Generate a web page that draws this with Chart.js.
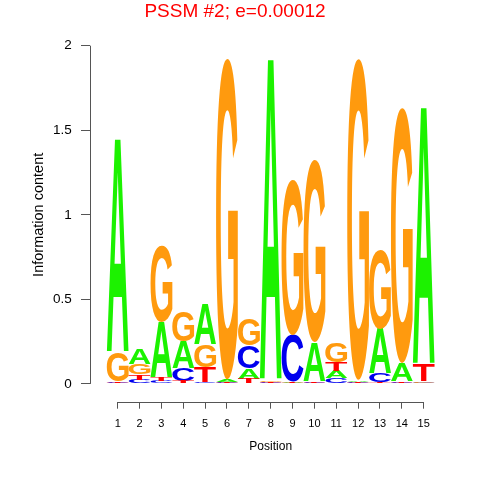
<!DOCTYPE html>
<html>
<head>
<meta charset="utf-8">
<script src="https://cdn.jsdelivr.net/npm/chart.js@4"></script>
<style>
html,body{margin:0;padding:0;background:#fff;}
#wrap{width:480px;height:480px;}
</style>
</head>
<body>
<div id="wrap"><canvas id="c" width="480" height="480"></canvas></div>
<script>
const positions = [1,2,3,4,5,6,7,8,9,10,11,12,13,14,15];
const heightA = [1.263, 0.088, 0.330, 0.157, 0.236, 0.012, 0.063, 1.900, 0.008, 0.227, 0.042, 0.010, 0.266, 0.109, 1.520];
const heightC = [0.007, 0.025, 0.016, 0.079, 0.012, 0.006, 0.134, 0.006, 0.276, 0.008, 0.036, 0.006, 0.050, 0.008, 0.008];
const heightG = [0.170, 0.063, 0.453, 0.177, 0.132, 1.900, 0.157, 0.008, 0.916, 1.073, 0.120, 1.900, 0.463, 1.510, 0.007];
const heightT = [0.008, 0.030, 0.020, 0.015, 0.089, 0.008, 0.030, 0.006, 0.007, 0.007, 0.050, 0.008, 0.010, 0.007, 0.099];
const yTicks = [0, 0.5, 1, 1.5, 2];
const xTicks = positions;
const titleText = 'PSSM #2; e=0.00012';
const xTitle = 'Position';
const yTitle = 'Information content';

const letters = ['A','C','G','T'];
const heights = {A: heightA, C: heightC, G: heightG, T: heightT};
const colors = {A: '#1CF200', C: '#0000EE', G: '#FF9A0E', T: '#FF0000'};

// stack letters in each column, smallest at the bottom
const ranges = {A: [], C: [], G: [], T: []};
positions.forEach((p, i) => {
  const order = letters.slice().sort((a, b) => heights[a][i] - heights[b][i]);
  let base = 0;
  order.forEach(l => {
    ranges[l].push({x: p, y: [base, base + heights[l][i]]});
    base += heights[l][i];
  });
});

const glyphCache = {};
function glyphMetrics(ctx, ch) {
  if (glyphCache[ch]) return glyphCache[ch];
  ctx.save();
  ctx.font = 'bold 200px "Liberation Sans"';
  const m = ctx.measureText(ch);
  ctx.restore();
  const g = {l: m.actualBoundingBoxLeft, r: m.actualBoundingBoxRight, a: m.actualBoundingBoxAscent, d: m.actualBoundingBoxDescent};
  glyphCache[ch] = g;
  return g;
}

const logoPlugin = {
  id: 'logo',
  afterDatasetsDraw(chart) {
    const ctx = chart.ctx;
    chart.data.datasets.forEach((ds, di) => {
      const meta = chart.getDatasetMeta(di);
      const ch = ds.label;
      const g = glyphMetrics(ctx, ch);
      meta.data.forEach(el => {
        const p = el.getProps(['x','y','base','width'], true);
        const top = Math.min(p.y, p.base);
        const h = Math.abs(p.base - p.y);
        if (h <= 0.05) return;
        const left = p.x - p.width / 2;
        ctx.save();
        ctx.beginPath();
        ctx.translate(left, top);
        ctx.scale(p.width / (g.l + g.r), h / (g.a + g.d));
        ctx.font = 'bold 200px "Liberation Sans"';
        ctx.textAlign = 'left';
        ctx.textBaseline = 'alphabetic';
        ctx.fillStyle = colors[ch];
        ctx.fillText(ch, g.l, g.a);
        ctx.restore();
      });
    });
  },
  afterDraw(chart) {
    const ctx = chart.ctx;
    const xs = chart.scales.x, ys = chart.scales.y;
    ctx.save();
    ctx.strokeStyle = '#555';
    ctx.lineWidth = 1;
    // y axis line from first to last tick
    const ax = Math.round(chart.chartArea.left) + 0.5;
    ctx.beginPath();
    ctx.moveTo(ax, ys.getPixelForValue(yTicks[0]));
    ctx.lineTo(ax, ys.getPixelForValue(yTicks[yTicks.length - 1]));
    ctx.stroke();
    // x axis line from first to last tick
    const ay = Math.round(chart.chartArea.bottom) + 0.5;
    ctx.beginPath();
    ctx.moveTo(xs.getPixelForValue(xTicks[0]), ay);
    ctx.lineTo(xs.getPixelForValue(xTicks[xTicks.length - 1]), ay);
    ctx.stroke();
    // titles
    ctx.fillStyle = '#FF0000';
    ctx.font = '19px "Liberation Sans"';
    ctx.textAlign = 'center';
    ctx.textBaseline = 'alphabetic';
    ctx.fillText(titleText, 235, 16.5);
    ctx.fillStyle = '#000';
    ctx.font = '12px "Liberation Sans"';
    ctx.fillText(xTitle, xs.getPixelForValue((xTicks[0] + xTicks[xTicks.length - 1]) / 2), 450);
    ctx.translate(42.5, ys.getPixelForValue((yTicks[0] + yTicks[yTicks.length - 1]) / 2));
    ctx.rotate(-Math.PI / 2);
    ctx.font = '14.5px "Liberation Sans"';
    ctx.fillText(yTitle, 0, 0);
    ctx.restore();
  }
};

new Chart(document.getElementById('c'), {
  type: 'bar',
  data: {
    datasets: letters.map(l => ({
      label: l,
      data: ranges[l],
      backgroundColor: 'rgba(0,0,0,0)',
      borderWidth: 0,
      barPercentage: 1,
      categoryPercentage: 1,
      grouped: false
    }))
  },
  options: {
    responsive: false,
    animation: false,
    devicePixelRatio: 1,
    layout: {padding: {top: 45.7, right: 23.5, left: 0, bottom: 0}},
    plugins: {legend: {display: false}, title: {display: false}, tooltip: {enabled: false}},
    scales: {
      x: {
        type: 'linear',
        offset: false,
        min: -0.267,
        max: 16.5,
        grid: {offset: false, drawOnChartArea: false, drawTicks: true, tickLength: 7, color: '#555'},
        border: {display: false},
        afterBuildTicks: s => { s.ticks = xTicks.map(v => ({value: v})); },
        afterFit: s => { s.height = 78.3; },
        ticks: {
          autoSkip: false, maxRotation: 0, padding: 9,
          color: '#000', font: {family: '"Liberation Sans"', size: 11},
          callback: v => String(v)
        }
      },
      y: {
        type: 'linear',
        min: -0.105,
        max: 2,
        grid: {drawOnChartArea: false, drawTicks: true, tickLength: 9, color: '#555'},
        border: {display: false},
        afterBuildTicks: s => { s.ticks = yTicks.map(v => ({value: v})); },
        afterFit: s => { s.width = 90; },
        ticks: {
          padding: 9.3,
          color: '#000', font: {family: '"Liberation Sans"', size: 13.5},
          callback: v => String(v)
        }
      }
    }
  },
  plugins: [logoPlugin]
});
</script>
</body>
</html>
